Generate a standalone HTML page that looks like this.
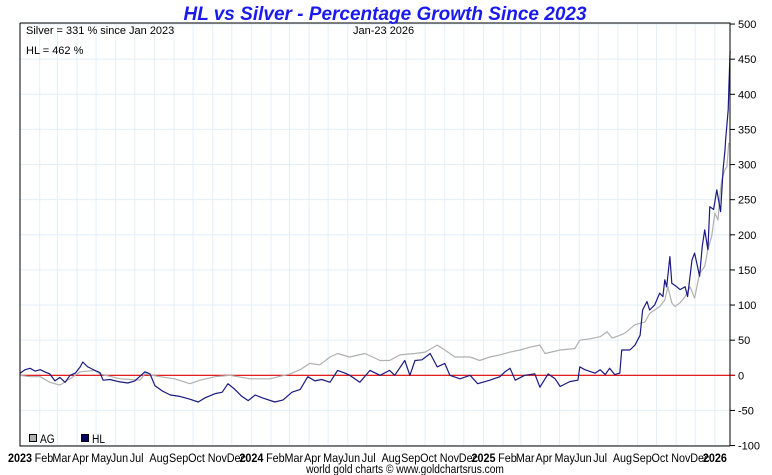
<!DOCTYPE html>
<html><head><meta charset="utf-8"><style>
body{margin:0;background:#fff;}
svg{display:block;font-family:"Liberation Sans",sans-serif;}
.tk{font-family:"Liberation Sans",sans-serif;font-size:12px;fill:#000;}
</style></head><body>
<svg id="c" width="772" height="475"></svg>
<script>
const hlDays=[0,8,16,24,32,39,47,55,63,71,79,87,95,99,107,118,126,131,142,155,170,181,197,205,213,224,237,252,268,281,292,308,319,328,339,350,360,371,382,402,415,429,442,454,465,476,489,501,513,520,536,552,568,583,591,607,615,623,634,647,658,670,678,694,710,722,741,757,765,773,781,796,812,820,833,844,852,867,880,883,891,907,915,923,930,938,946,949,962,970,978,982,989,993,1001,1009,1014,1017,1020,1025,1028,1036,1041,1049,1053,1060,1064,1072,1076,1080,1085,1088,1094,1099,1105,1109,1112,1113,1117,1118,1120];
const hlValues=[3,8,10,6,8,5,2,-8,-3,-10,0,3,12,19,12,7,4,-7,-6,-9,-11,-8,5,2,-15,-22,-28,-30,-34,-38,-32,-26,-24,-12,-20,-30,-36,-28,-32,-38,-35,-24,-20,-2,-8,-6,-10,7,3,0,-10,7,0,7,0,21,0,21,22,31,12,17,0,-5,0,-12,-7,-2,5,10,-7,0,2,-17,2,-5,-16,-9,-7,12,8,3,8,1,10,1,3,36,36,43,57,93,105,93,100,117,112,136,126,169,131,126,122,126,112,164,174,141,183,207,179,240,236,264,233,293,321,335,378,406,462];
const agDays=[0,16,32,47,63,79,95,118,126,158,189,197,221,244,268,284,308,331,363,394,426,442,457,473,489,501,520,544,568,583,599,623,639,658,670,686,710,725,741,757,773,789,804,820,828,852,875,883,899,915,926,934,946,954,970,986,993,1009,1017,1022,1028,1033,1041,1049,1057,1064,1072,1080,1085,1091,1096,1101,1104,1107,1112,1115,1118];
const agValues=[0,-2,-2,-10,-14,-5,5,7,2,-5,-7,2,-2,-5,-12,-7,-2,0,-5,-5,2,8,17,15,26,31,26,31,21,21,29,31,33,43,36,26,26,21,26,29,33,36,40,43,31,36,38,50,52,55,62,53,57,60,72,76,88,98,107,126,103,98,103,112,126,110,145,155,179,198,231,221,255,278,293,297,331];
const yTicks=[500,450,400,350,300,250,200,150,100,50,0,-50,-100];
const monthLabels=["2023","Feb","Mar","Apr","May","Jun","Jul","Aug","Sep","Oct","Nov","Dec","2024","Feb","Mar","Apr","May","Jun","Jul","Aug","Sep","Oct","Nov","Dec","2025","Feb","Mar","Apr","May","Jun","Jul","Aug","Sep","Oct","Nov","Dec","2026"];
const monthStartDays=[0,31,59,90,120,151,181,212,243,273,304,334,365,396,425,456,486,517,547,578,609,639,670,700,731,762,790,821,851,882,912,943,974,1004,1035,1065,1096];

const L=20,R=730,T=23,B=446;
const X=d=>L+d*0.634;
const Y=v=>375.3-v*0.7025;
const svg=document.getElementById('c');
const NS='http://www.w3.org/2000/svg';
function mk(t,a,p){const e=document.createElementNS(NS,t);for(const k in a)e.setAttribute(k,a[k]);(p||svg).appendChild(e);return e;}

yTicks.forEach(v=>{
  const g=mk('line',{x1:L,x2:R,y1:Y(v),y2:Y(v),stroke:'#e3eff9','stroke-width':1});
  
  
  const t=mk('line',{x1:R,x2:R+5,y1:Y(v),y2:Y(v),stroke:'#000'});
  
  
  const lb=mk('text',{x:R+8,y:Y(v)+4,'font-size':11});
  lb.textContent=v;
  
  
});
monthStartDays.forEach((d,i)=>{
  const x=X(d);
  if(i>0){const g=mk('line',{x1:x,x2:x,y1:T,y2:B,stroke:'#e3eff9'});
  
  }
  const yr=/^\d{4}$/.test(monthLabels[i]);
  const lb=mk('text',{transform:`translate(${yr?x:x-5},462) scale(0.9,1)`,'text-anchor':yr?'middle':'start',class:'tk','font-weight':yr?'bold':'normal'});
  lb.textContent=monthLabels[i];
  
  
});
const z=mk('line',{x1:L,x2:R+5,y1:Y(0),y2:Y(0),stroke:'#e00000','stroke-width':1.2});


function line(days,vals,col,name){
  const p=mk('polyline',{points:days.map((d,i)=>X(d).toFixed(1)+','+Y(vals[i]).toFixed(1)).join(' '),fill:'none',stroke:col,'stroke-width':1.2,'stroke-linejoin':'round'});
  
  
}
line(agDays,agValues,'#b0b0b0','ag-series-line');
line(hlDays,hlValues,'#1a1a80','hl-series-line');
const f=mk('path',{d:`M${L},${T}H${R}V${B}M${L},${T}V${B}H${R}`,fill:'none',stroke:'#000','stroke-width':1});


</script>
<script>
(function(){
const svg=document.getElementById('c');const NS='http://www.w3.org/2000/svg';
function mk(t,a){const e=document.createElementNS(NS,t);for(const k in a)e.setAttribute(k,a[k]);svg.appendChild(e);return e;}
let t=mk('text',{x:385,y:20,'text-anchor':'middle','font-size':19,'font-weight':'bold','font-style':'italic',fill:'#1a1aee'});
t.textContent='HL vs Silver - Percentage Growth Since 2023';


t=mk('text',{x:26,y:34,'font-size':11});t.textContent='Silver = 331 % since Jan 2023';


t=mk('text',{x:26,y:54,'font-size':11});t.textContent='HL = 462 %';


t=mk('text',{x:353,y:34,'font-size':11});t.textContent='Jan-23  2026';


let r=mk('rect',{x:29.5,y:434.5,width:7,height:7,fill:'#b0b0b0',stroke:'#000'});


t=mk('text',{transform:'translate(40,443) scale(0.85,1)','font-size':12,class:'tk'});t.textContent='AG';


r=mk('rect',{x:81.5,y:434.5,width:7,height:7,fill:'#000066',stroke:'#000'});


t=mk('text',{transform:'translate(92,443) scale(0.85,1)','font-size':12,class:'tk'});t.textContent='HL';


t=mk('text',{transform:'translate(405,473) scale(0.85,1)','text-anchor':'middle','font-size':12,class:'tk',fill:'#1a1a60'});
t.textContent='world gold charts © www.goldchartsrus.com';


})();
</script>
</body></html>
